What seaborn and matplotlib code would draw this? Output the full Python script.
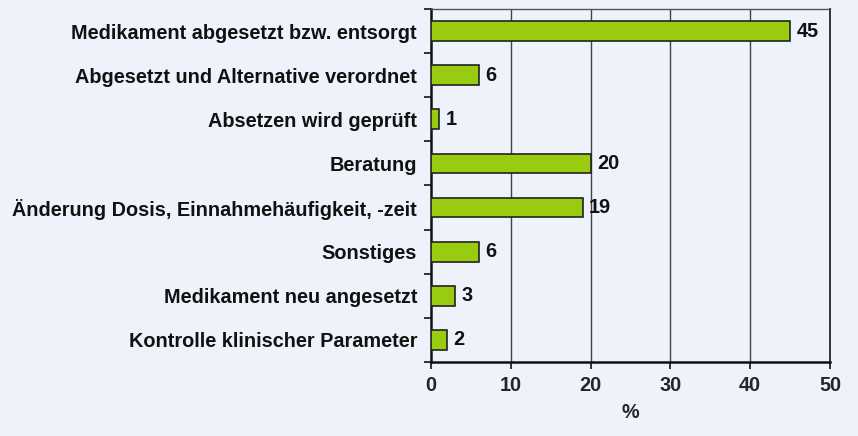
import numpy as np
import pandas as pd
import matplotlib
matplotlib.use("Agg")
import matplotlib.pyplot as plt
import seaborn as sns

categories = ["Medikament abgesetzt bzw. entsorgt",
              "Abgesetzt und Alternative verordnet",
              "Absetzen wird geprüft",
              "Beratung",
              "Änderung Dosis, Einnahmehäufigkeit, -zeit",
              "Sonstiges",
              "Medikament neu angesetzt",
              "Kontrolle klinischer Parameter"]
values = [45, 6, 1, 20, 19, 6, 3, 2]
xticks = [0, 10, 20, 30, 40, 50]

bg = "#EEF2FB"
green = "#99CC11"
fs = 14.3

sns.set_theme(style="white")
plt.rcParams['font.family'] = ['Liberation Sans', 'DejaVu Sans']
plt.rcParams['font.weight'] = 'bold'

df = pd.DataFrame({'cat': categories, 'val': values})

fig = plt.figure(figsize=(8.58, 4.36), dpi=100, facecolor=bg)
ax = fig.add_axes([431/858, 1-362/436, (830-431)/858, (362-9)/436])
ax.set_facecolor(bg)

sns.barplot(data=df, x='val', y='cat', orient='h', color=green, width=0.45,
            edgecolor='#222222', linewidth=1.2, saturation=1, ax=ax, zorder=3)

for i, v in enumerate(values):
    ax.text(v + 0.8, i, str(v), va='center', ha='left', fontsize=fs,
            fontweight='bold', color='#111111')

ax.set_xlim(0, 50)
ax.set_ylim(7.5, -0.5)
ax.set_xticks(xticks)
ax.set_xticklabels([str(t) for t in xticks], fontsize=fs, fontweight='bold')
ax.set_yticks(range(len(categories)))
ax.set_yticklabels(categories, fontsize=fs, fontweight='bold')
ax.set_yticks(np.arange(-0.5, 8, 1), minor=True)
ax.tick_params(axis='y', which='major', length=0, pad=10, colors='#111111')
ax.tick_params(axis='y', which='minor', length=5, width=1.2, direction='out', color='#111111', left=True)
ax.tick_params(axis='x', which='major', length=5, width=1.2, direction='out', color='#111111', bottom=True, pad=5)
ax.set_xlabel('%', fontsize=fs, fontweight='bold', labelpad=6)
ax.set_ylabel('')

for x in [10, 20, 30, 40]:
    ax.axvline(x, color='#444444', linewidth=1.0, zorder=1)

ax.spines['left'].set_color('#111111')
ax.spines['left'].set_linewidth(1.8)
ax.spines['bottom'].set_color('#111111')
ax.spines['bottom'].set_linewidth(1.8)
ax.spines['top'].set_color('#555555')
ax.spines['top'].set_linewidth(1.0)
ax.spines['right'].set_color('#333333')
ax.spines['right'].set_linewidth(1.4)
for s in ax.spines.values():
    s.set_visible(True)

fig.savefig('out.png', dpi=100, facecolor=bg)
